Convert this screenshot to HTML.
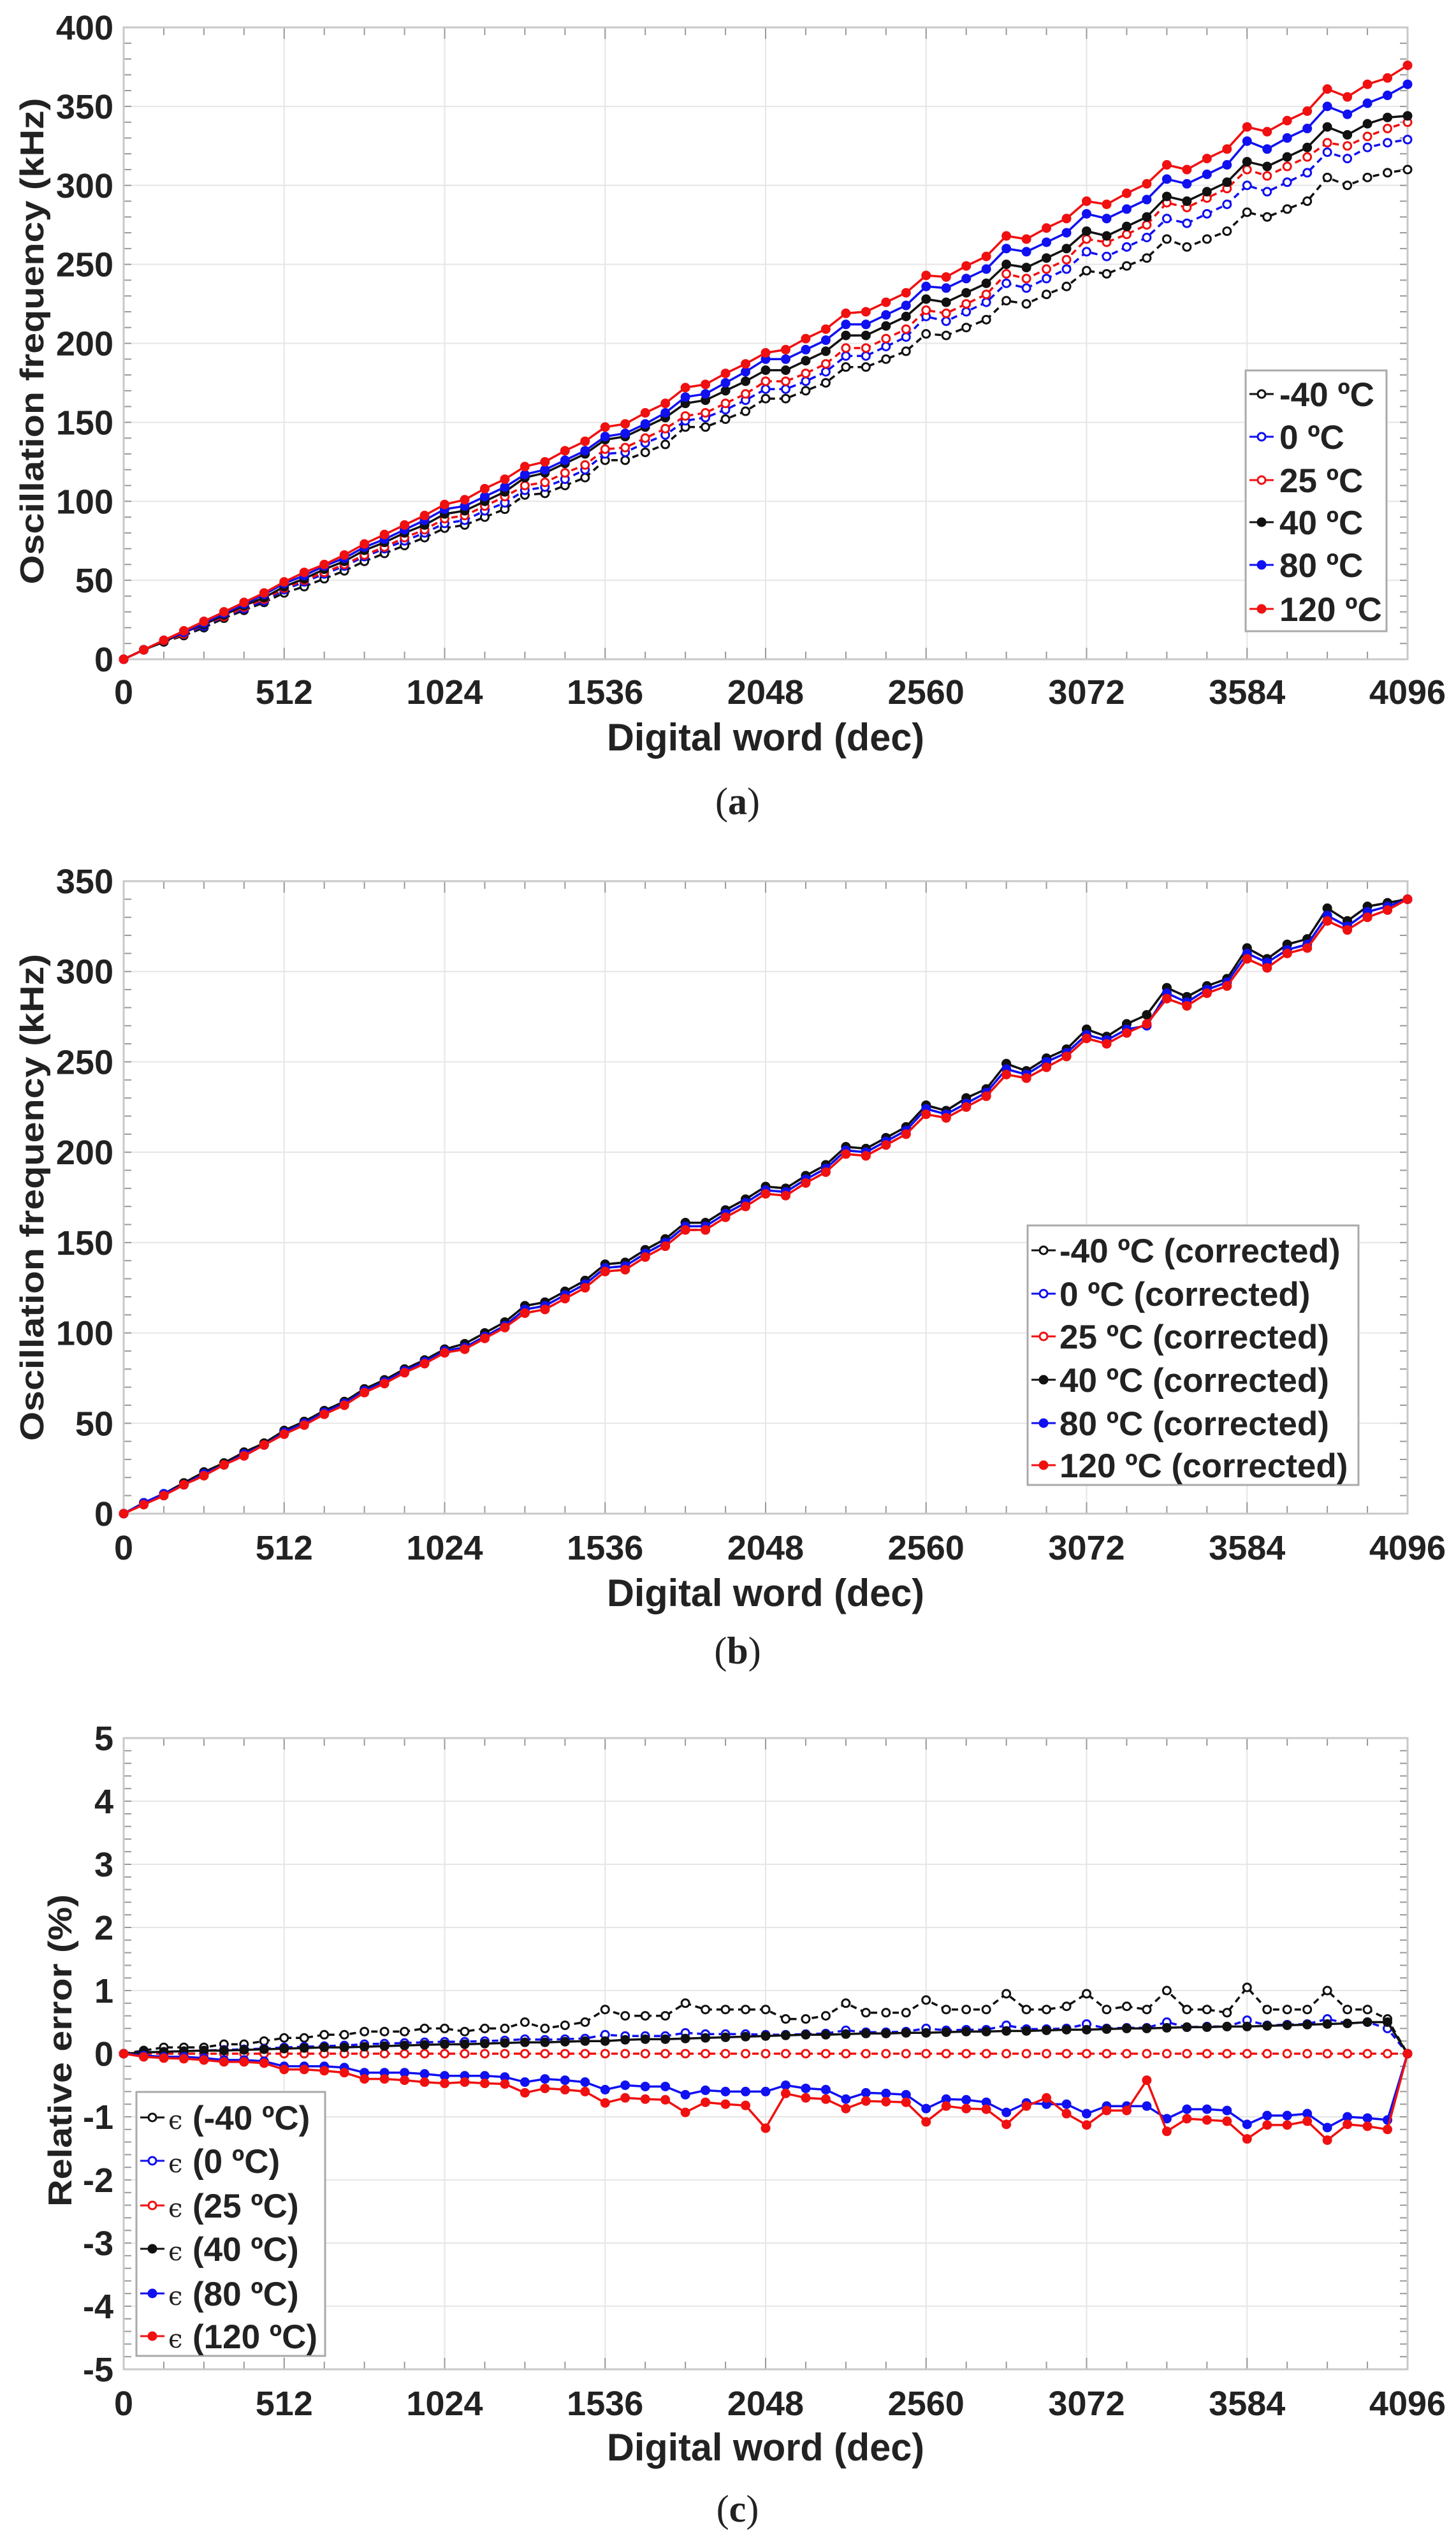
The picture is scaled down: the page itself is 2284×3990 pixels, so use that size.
<!DOCTYPE html>
<html><head><meta charset="utf-8"><style>
html,body{margin:0;padding:0;background:#fff}
svg{display:block}
text{font-family:"Liberation Sans",Arial,sans-serif;font-weight:bold;fill:#222}
</style></head><body>
<svg id="fig" width="2284" height="3990" viewBox="0 0 2284 3990" xmlns="http://www.w3.org/2000/svg"></svg>
<script>
// ---- shared x data ----
const xWords = [0,64,128,192,256,320,384,448,512,576,640,704,768,832,896,960,1024,1088,1152,1216,1280,1344,1408,1472,1536,1600,1664,1728,1792,1856,1920,1984,2048,2112,2176,2240,2304,2368,2432,2496,2560,2624,2688,2752,2816,2880,2944,3008,3072,3136,3200,3264,3328,3392,3456,3520,3584,3648,3712,3776,3840,3904,3968,4032,4096];
const xTicks = [0,512,1024,1536,2048,2560,3072,3584,4096];
const xTickLabels = ["0","512","1024","1536","2048","2560","3072","3584","4096"];

// ---- chart (a) ----
const aTicks = [0,50,100,150,200,250,300,350,400];
const aM40 = [0,6,11,15,20,26,31,36,42,46,51,56,62,67,72,77,83, 85,90,95,104,105,110,115,126,126,131,136,147,147,152,157,165, 165,170,175,185,185,190,195,206, 205,210,215,227,225,231,236,246, 244,249,254,266,261,266,271,283, 280,285,290,305,300,305,308,310];
const a0 = [0,6,11,16,21,27,32,37,44,49,54,59,65,70,75,80,86, 88,94,99,107,109,114,120,130,131,137,142,151,153,158,164,171, 171,176,182,192,192,198,204,217, 214,220,226,238,235,241,247,258, 255,261,267,279,276,282,288,300, 296,302,308,321,317,324,327,329];
const a25 = [0,6,11,16,22,27,33,38,45,50,55,60,66,71,77,82,89, 91,97,103,110,112,118,123,133,134,140,146,154,156,162,168,176, 176,181,187,197,197,203,209,221, 219,225,231,244,241,247,253,266, 264,269,275,289,286,292,298,310, 306,312,318,327,325,331,336,340];
const a40 = [0,6,11,17,22,28,34,39,46,51,57,62,69,74,80,85,92, 94,100,106,115,118,124,130,139,141,147,153,162,164,170,176,183, 183,189,195,205,205,211,217,228, 226,232,238,250,248,254,260,271, 268,274,280,293,290,296,302,315, 312,318,324,337,332,339,343,344];
const a80 = [0,6,12,17,23,29,35,41,48,53,59,64,71,76,82,88,95, 97,103,109,117,120,126,132,141,143,149,156,166,168,175,182,190, 190,196,202,212,212,218,224,236, 235,241,247,260,258,264,270,282, 279,285,291,304,301,307,313,328, 323,330,336,350,345,352,357,364];
const a120 = [0,6,12,18,24,30,36,42,49,55,60,66,73,79,85,91,98, 101,108,114,122,125,132,138,147,149,156,162,172,174,181,187,194, 196,203,209,219,220,226,232,243, 242,249,255,268,266,273,279,290, 288,295,301,313,310,317,323,337, 334,341,347,361,356,364,368,376];

// ---- chart (b) ----
const bTicks = [0,50,100,150,200,250,300,350];
const bUpper = [0,6,11,17,23,28,34,39,46,51,57,62,69,74,80,85,91, 94,100,106,115,117,123,129,138,139,146,152,161,161,168,174,181, 180,187,193,203,202,208,214,226, 223,230,235,249,245,252,257,268, 264,271,276,291,286,292,296,313, 307,315,318,335,328,336,338,340];
const bMid = [0,6,11,16,22,27,33,38,45,50,56,61,68,73,79,84,90, 92,98,104,113,115,121,127,136,137,144,150,159,159,166,172,179, 178,185,191,201,200,206,212,224, 221,227,233,246,243,250,255,265, 262,268,270,288,283,290,294,310, 305,312,315,331,325,333,336,340];
const bLower = [0,5,10,16,21,27,32,38,44,49,55,60,67,72,78,83,89, 91,97,103,111,113,119,125,134,135,142,148,157,157,164,170,177, 176,183,189,199,198,204,210,221, 219,225,231,243,241,247,253,263, 260,266,271,285,281,288,292,307, 302,310,313,328,323,330,334,340];

// ---- chart (c) ----
const cTicks = [-5,-4,-3,-2,-1,0,1,2,3,4,5];
const cM40 = [0,0.05,0.1,0.1,0.1,0.15,0.15,0.2,0.25,0.25,0.3,0.3,0.35,0.35,0.35,0.4,0.4, 0.35,0.4,0.4,0.5,0.4,0.45,0.5,0.7,0.6,0.6,0.6,0.8,0.7,0.7,0.7,0.7, 0.55,0.55,0.6,0.8,0.65,0.65,0.65,0.85, 0.7,0.7,0.7,0.95,0.7,0.7,0.75,0.95, 0.7,0.75,0.7,1.0,0.7,0.7,0.65,1.05, 0.7,0.7,0.7,1.0,0.7,0.7,0.55,0];
const c0 = [0,0.02,0.03,0.04,0.05,0.06,0.07,0.08,0.1,0.11,0.12,0.13,0.15,0.16,0.17,0.18,0.19, 0.19,0.2,0.21,0.23,0.22,0.23,0.24,0.3,0.28,0.28,0.28,0.33,0.31,0.31,0.31,0.3, 0.3,0.31,0.32,0.37,0.34,0.34,0.35,0.4, 0.37,0.38,0.38,0.45,0.39,0.39,0.4,0.47, 0.4,0.41,0.41,0.5,0.42,0.43,0.43,0.53, 0.45,0.46,0.47,0.55,0.48,0.5,0.4,0];
const c25 = [0,0,0,0,0,0,0,0,0,0,0,0,0,0,0,0,0, 0,0,0,0,0,0,0,0,0,0,0,0,0,0,0,0, 0,0,0,0,0,0,0,0, 0,0,0,0,0,0,0,0, 0,0,0,0,0,0,0,0, 0,0,0,0,0,0,0,0];
const c40 = [0,0.02,0.03,0.04,0.05,0.05,0.06,0.07,0.08,0.09,0.1,0.1,0.11,0.12,0.13,0.14,0.15, 0.15,0.16,0.17,0.18,0.18,0.19,0.2,0.2,0.22,0.23,0.23,0.24,0.25,0.26,0.27,0.28, 0.29,0.3,0.3,0.31,0.32,0.32,0.33,0.33, 0.34,0.35,0.35,0.36,0.36,0.37,0.38,0.38, 0.39,0.4,0.4,0.41,0.42,0.42,0.43,0.43, 0.44,0.45,0.46,0.47,0.48,0.5,0.5,0];
const c80 = [0,-0.03,-0.05,-0.05,-0.07,-0.1,-0.1,-0.12,-0.2,-0.2,-0.2,-0.22,-0.3,-0.3,-0.3,-0.32,-0.35, -0.35,-0.35,-0.37,-0.45,-0.4,-0.42,-0.45,-0.57,-0.5,-0.52,-0.52,-0.65,-0.58,-0.6,-0.6,-0.6, -0.5,-0.55,-0.57,-0.72,-0.62,-0.63,-0.65,-0.87, -0.72,-0.73,-0.77,-0.93,-0.78,-0.8,-0.8,-0.95, -0.83,-0.83,-0.83,-1.03,-0.88,-0.88,-0.9,-1.12, -0.98,-0.98,-0.95,-1.17,-1.0,-1.02,-1.05,0];
const c120 = [0,-0.05,-0.07,-0.08,-0.1,-0.13,-0.13,-0.15,-0.25,-0.25,-0.27,-0.3,-0.4,-0.4,-0.42,-0.45,-0.47, -0.45,-0.47,-0.48,-0.62,-0.55,-0.57,-0.6,-0.78,-0.7,-0.72,-0.73,-0.93,-0.77,-0.8,-0.82,-1.18, -0.63,-0.7,-0.72,-0.87,-0.75,-0.76,-0.77,-1.08, -0.83,-0.87,-0.88,-1.12,-0.83,-0.7,-0.95,-1.13, -0.9,-0.9,-0.42,-1.23,-1.03,-1.05,-1.07,-1.35, -1.13,-1.13,-1.07,-1.37,-1.12,-1.15,-1.2,0];

const aLabels = ["-40 \u00baC","0 \u00baC","25 \u00baC","40 \u00baC","80 \u00baC","120 \u00baC"];
const bLabels = ["-40 \u00baC (corrected)","0 \u00baC (corrected)","25 \u00baC (corrected)","40 \u00baC (corrected)","80 \u00baC (corrected)","120 \u00baC (corrected)"];
const cLabels = ["(-40 \u00baC)","(0 \u00baC)","(25 \u00baC)","(40 \u00baC)","(80 \u00baC)","(120 \u00baC)"];

const NS = "http://www.w3.org/2000/svg";
const svg = document.getElementById('fig');
const styles = [
  {c:'#111', dash:'10,7', fill:false},
  {c:'#1010f0', dash:'10,7', fill:false},
  {c:'#f01010', dash:'10,7', fill:false},
  {c:'#111', dash:null, fill:true},
  {c:'#1010f0', dash:null, fill:true},
  {c:'#f01010', dash:null, fill:true}
];
function el(tag, attrs, parent){
  const e = document.createElementNS(NS, tag);
  for (const k in attrs) e.setAttribute(k, attrs[k]);
  (parent||svg).appendChild(e);
  return e;
}
const X0 = 194, X1 = 2208;
function xs(v){ return X0 + (v/4096)*(X1-X0); }

function drawChart(cfg){
  const g = el('g', {});
  
  
  const ys = v => cfg.yBot + (v-cfg.yMin)/(cfg.yMax-cfg.yMin)*(cfg.yTop-cfg.yBot);
  xTicks.forEach(t => { const l = el('line',{x1:xs(t),x2:xs(t),y1:cfg.yTop,y2:cfg.yBot,stroke:'#e6e6e6','stroke-width':2},g);   });
  cfg.yTicks.forEach(t => { const l = el('line',{x1:X0,x2:X1,y1:ys(t),y2:ys(t),stroke:'#e6e6e6','stroke-width':2},g);   });
  for (let v=0; v<=4096; v+=128){
    const len = (v%512===0)?18:12;
    el('line',{x1:xs(v),x2:xs(v),y1:cfg.yBot,y2:cfg.yBot-len,stroke:'#999','stroke-width':2},g);
    el('line',{x1:xs(v),x2:xs(v),y1:cfg.yTop,y2:cfg.yTop+len,stroke:'#999','stroke-width':2},g);
  }
  const step = (cfg.yTicks[1]-cfg.yTicks[0])/5;
  for (let v=cfg.yMin; v<=cfg.yMax+1e-9; v+=step){
    el('line',{x1:X0,x2:X0+12,y1:ys(v),y2:ys(v),stroke:'#999','stroke-width':2},g);
    el('line',{x1:X1,x2:X1-12,y1:ys(v),y2:ys(v),stroke:'#999','stroke-width':2},g);
  }
  const fr = el('rect',{x:X0,y:cfg.yTop,width:X1-X0,height:cfg.yBot-cfg.yTop,fill:'none',stroke:'#c8c8c8','stroke-width':3},g);
   
  xTicks.forEach((t,i) => {
    const tx = el('text',{x:xs(t),y:cfg.xLabY,'font-size':54,'text-anchor':'middle'},g);
    tx.textContent = xTickLabels[i];
     
  });
  cfg.yTicks.forEach(t => {
    const tx = el('text',{x:178,y:ys(t)+19,'font-size':54,'text-anchor':'end'},g);
    tx.textContent = String(t);
     
  });
  const xt = el('text',{x:1201,y:cfg.xTitleY,'font-size':60,'text-anchor':'middle',textLength:498,lengthAdjust:'spacingAndGlyphs'},g);
  xt.textContent = 'Digital word (dec)';
   
  const yt = el('text',{x:0,y:0,'font-size':52,'text-anchor':'middle',textLength:cfg.yTitleLen,lengthAdjust:'spacingAndGlyphs',transform:`translate(${cfg.yTitleX},${cfg.yTitleCY}) rotate(-90)`},g);
  yt.textContent = cfg.yTitle;
   
  cfg.series.forEach((s,si) => {
    const st = styles[si];
    const sg = el('g',{},g);
    
    
    const pts = s.map((v,i)=> xs(xWords[i]).toFixed(1)+','+ys(v).toFixed(1)).join(' ');
    const pl = el('polyline',{points:pts,fill:'none',stroke:st.c,'stroke-width':3.5,'stroke-linejoin':'round'},sg);
    if (st.dash) pl.setAttribute('stroke-dasharray', st.dash);
     
    s.forEach((v,i) => {
      const m = el('circle',{cx:xs(xWords[i]),cy:ys(v),r:6,fill:st.fill?st.c:'#fff',stroke:st.c,'stroke-width':3},sg);
       
    });
  });
  const L = cfg.legend;
  const lg = el('g',{},g);
  
  
  el('rect',{x:L.x,y:L.y,width:L.w,height:L.h,fill:'#fff',stroke:'#aaa','stroke-width':3},lg);
  cfg.labels.forEach((lab,i) => {
    const st = styles[i], cy = L.rows[i];
    const eg = el('g',{},lg);
    
    
    el('line',{x1:L.x+6,x2:L.x+44,y1:cy,y2:cy,stroke:st.c,'stroke-width':3},eg);
    el('circle',{cx:L.x+25,cy:cy,r:6,fill:st.fill?st.c:'#fff',stroke:st.c,'stroke-width':3},eg);
    if (cfg.eps){
      const e = el('text',{x:L.x+50,y:cy+18,style:'font-family:"DejaVu Serif",serif;font-weight:normal;font-size:40px'},eg);
      e.textContent = '\u03f5';
    }
    const t = el('text',{x:L.x+L.tx,y:cy+19,'font-size':53},eg);
    t.textContent = lab;
  });
  const cap = el('text',{x:1157,y:cfg.capY,'text-anchor':'middle',style:'font-family:"Liberation Serif",serif;font-weight:normal;font-size:60px'},g);
   
  const p1 = el('tspan',{},cap); p1.textContent='(';
  const p2 = el('tspan',{style:'font-weight:bold'},cap); p2.textContent=cfg.cap;
  const p3 = el('tspan',{},cap); p3.textContent=')';
}

drawChart({name:'chart-a-frequency', yMin:0,yMax:400,yTop:43,yBot:1034, yTicks:aTicks,
  xLabY:1104, xTitleY:1177, yTitle:'Oscillation frequency (kHz)', yTitleX:68, yTitleCY:535, yTitleLen:763,
  series:[aM40,a0,a25,a40,a80,a120], labels:aLabels,
  legend:{x:1954,y:581,w:221,h:409,tx:53,rows:[618,685,753,819,886,955]}, capY:1277, cap:'a'});
drawChart({name:'chart-b-corrected', yMin:0,yMax:350,yTop:1382,yBot:2374, yTicks:bTicks,
  xLabY:2446, xTitleY:2519, yTitle:'Oscillation frequency (kHz)', yTitleX:68, yTitleCY:1878, yTitleLen:764,
  series:[bUpper,bMid,bLower,bUpper,bMid,bLower], labels:bLabels,
  legend:{x:1612,y:1922,w:519,h:407,tx:50,rows:[1961,2029,2096,2164,2232,2298]}, capY:2609, cap:'b'});
drawChart({name:'chart-c-relative-error', yMin:-5,yMax:5,yTop:2726,yBot:3716, yTicks:cTicks,
  xLabY:3788, xTitleY:3859, yTitle:'Relative error (%)', yTitleX:112, yTitleCY:3216, yTitleLen:490,
  series:[cM40,c0,c25,c40,c80,c120], labels:cLabels, eps:true,
  legend:{x:214,y:3281,w:296,h:414,tx:88,rows:[3321,3389,3459,3527,3597,3664]}, capY:3955, cap:'c'});
</script>
</body></html>
